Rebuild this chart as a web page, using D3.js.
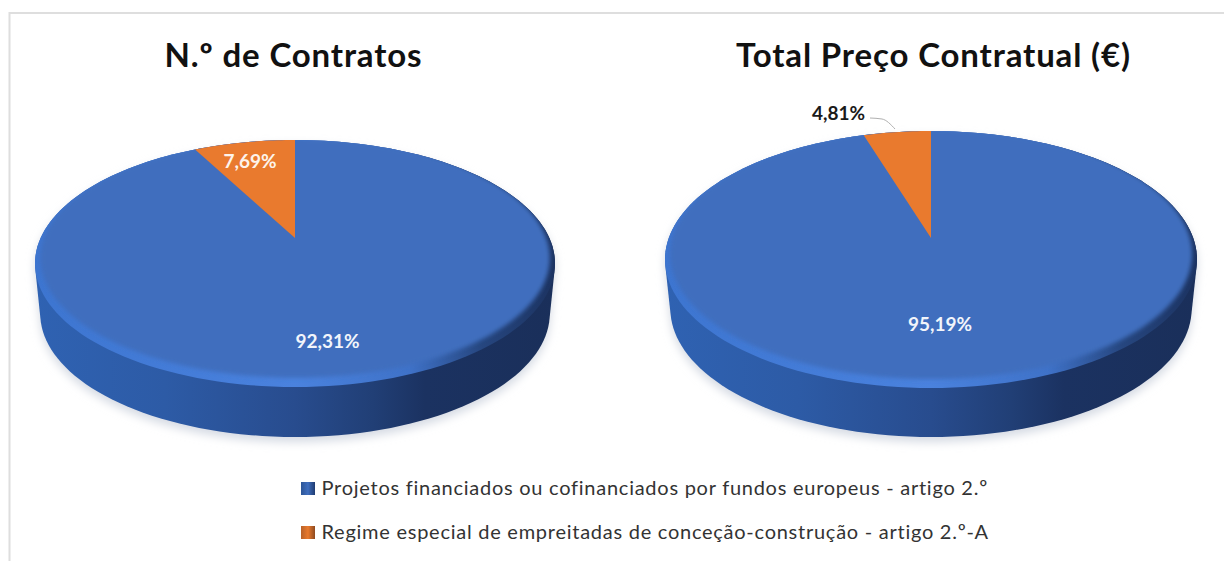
<!DOCTYPE html>
<html>
<head>
<meta charset="utf-8">
<script src="https://cdn.jsdelivr.net/npm/d3@7"></script>
<style>
    html, body { margin: 0; padding: 0; background: #fff; overflow: hidden; }
    text { font-family: Lato, "Open Sans", sans-serif; }
</style>
</head>
<body>
<svg id="drawing_region" width="1224" height="561"></svg>
<script>
const categories = [
    "Projetos financiados ou cofinanciados por fundos europeus - artigo 2.º",
    "Regime especial de empreitadas de conceção-construção - artigo 2.º-A"
];
const chart_titles = ["N.º de Contratos", "Total Preço Contratual (€)"];
const contratos_values = [92.31, 7.69];
const preco_values = [95.19, 4.81];
const colors = ["#3f6ebe", "#e97a2e"];

const fmt = d3.formatLocale({ decimal: ",", thousands: ".", grouping: [3], currency: ["", "€"] }).format(".2f");

const svg = d3.select("#drawing_region");
const defs = svg.append("defs");

// moldura cinzenta (só em cima e à esquerda)
svg.append("path")
    .attr("d", "M9.5,561V13H1224")
    .attr("fill", "none")
    .attr("stroke", "#dedede")
    .attr("stroke-width", 2);

function hgrad(id, stops) {
    const g = defs.append("linearGradient").attr("id", id);
    stops.forEach(s => g.append("stop").attr("offset", s[0]).attr("stop-color", s[1]));
}
hgrad("side_grad", [[0, "#2f62b2"], [0.25, "#2d5ba6"], [0.5, "#284c8e"], [0.65, "#213f76"], [0.75, "#1b3261"], [1, "#1a2f5a"]]);
hgrad("rim_grad", [[0, "#3d75d0"], [0.5, "#4a82de"], [0.72, "#3f72c8"], [0.86, "#26467f"], [1, "#1c3361"]]);
defs.append("filter").attr("id", "blur_soft").append("feGaussianBlur").attr("stdDeviation", 2);
defs.append("filter").attr("id", "blur_shadow")
    .attr("x", "-10%").attr("y", "-10%").attr("width", "120%").attr("height", "120%")
    .append("feGaussianBlur").attr("stdDeviation", 5);

let pie_count = 0;

class Pie3D {
    constructor(config, values) {
        this.config = config;
        this.values = values;
        this.init();
        this.render();
    }

    init() {
        const c = this.config;
        // perspetiva: o centro do círculo fica acima do centro da elipse
        const k = (c.bottom - c.cy - (c.cy - c.top)) / (c.bottom - c.cy + (c.cy - c.top));
        const b = (c.cy - c.top) * (1 + k);
        const a = c.rx * Math.sqrt(1 - k * k);
        this.project = (angle, r) => {
            const u = r * Math.sin(angle), v = r * Math.cos(angle);
            const w = 1 + k * v;
            return [c.cx + a * u / w, c.cy - b * v / w];
        };
        this.arcs = d3.pie().sort(null)(this.values);
        this.angles = d3.range(0, 361, 2).map(d => d * Math.PI / 180);
    }

    render() {
        const c = this.config, self = this;
        const g = svg.append("g");
        const rim = this.angles.map(t => this.project(t, 1));
        const lower = rim.map(p => [c.cx + (p[0] - c.cx) * 0.98, p[1] + c.depth]);
        const hull = d3.polygonHull(rim.concat(lower));
        const closed = d3.line().curve(d3.curveLinearClosed);

        g.append("path")
            .attr("d", closed(hull))
            .attr("transform", "translate(0,5)")
            .attr("fill", "#d5dae3")
            .attr("filter", "url(#blur_shadow)");
        g.append("path").attr("d", closed(hull)).attr("fill", "url(#side_grad)");
        g.append("path").attr("d", closed(rim)).attr("fill", "url(#rim_grad)");

        // face de cima, um pouco recolhida em baixo para deixar ver o bisel
        const clip_id = `rim_clip_${pie_count++}`;
        defs.append("clipPath").attr("id", clip_id).append("path").attr("d", closed(rim));
        const inner = this.angles.map(t => this.project(t, 1.025 - 0.075 * (1 - Math.cos(t)) / 2));
        g.append("g")
            .attr("clip-path", `url(#${clip_id})`)
            .append("path")
            .attr("d", closed(inner))
            .attr("fill", colors[0])
            .attr("filter", "url(#blur_soft)");

        this.arcs.forEach((d, i) => {
            if (i === 0) return;
            const pts = d3.range(d.startAngle, d.endAngle, 0.02).concat([d.endAngle])
                .map(t => self.project(t, 1));
            pts.push(self.project(0, 0));
            g.append("path").attr("d", closed(pts)).attr("fill", colors[i]);
        });

        if (c.leader) {
            g.append("path")
                .attr("d", d3.line().curve(d3.curveMonotoneX)(c.leader))
                .attr("fill", "none")
                .attr("stroke", "#b0b0b0")
                .attr("stroke-width", 1);
        }

        this.values.forEach((v, i) => {
            g.append("text")
                .attr("x", c.labels[i][0])
                .attr("y", c.labels[i][1])
                .attr("dy", "0.35em")
                .attr("text-anchor", "middle")
                .attr("font-size", 19)
                .attr("font-weight", 700)
                .attr("fill", c.label_fill[i])
                .text(fmt(v) + "%");
        });

        svg.append("text")
            .attr("x", c.title_x)
            .attr("y", 55)
            .attr("dy", "0.35em")
            .attr("text-anchor", "middle")
            .attr("font-size", 33)
            .attr("font-weight", 700)
            .attr("letter-spacing", 0.85)
            .attr("fill", "#111")
            .text(c.title);
    }
}

new Pie3D({
    cx: 295, cy: 238, top: 140, bottom: 387, rx: 260, depth: 50,
    title: chart_titles[0], title_x: 293.5,
    labels: [[327.5, 341], [250, 161]],
    label_fill: ["#f2f5fb", "#fdf3ea"]
}, contratos_values);

new Pie3D({
    cx: 931, cy: 238, top: 131, bottom: 388, rx: 266, depth: 49,
    title: chart_titles[1], title_x: 933.5,
    labels: [[940, 324], [838.5, 113]],
    label_fill: ["#f2f5fb", "#1a1a1a"],
    leader: [[870, 118], [882, 119], [895, 129]]
}, preco_values);

// legenda
hgrad("leg_0", [[0, "#2d5596"], [0.5, "#3f6ebe"], [1, "#1f3b70"]]);
hgrad("leg_1", [[0, "#b8622a"], [0.5, "#e97a2e"], [1, "#8d4a20"]]);
const legend = svg.append("g").selectAll("g").data(categories).join("g")
    .attr("transform", (d, i) => `translate(301,${488.5 + i * 44})`);
legend.append("rect")
    .attr("y", -6.5).attr("width", 14).attr("height", 13)
    .attr("fill", (d, i) => `url(#leg_${i})`);
legend.append("text")
    .attr("x", 20.5)
    .attr("dy", "0.33em")
    .attr("font-size", 20)
    .attr("letter-spacing", 0.74)
    .attr("fill", "#333")
    .text(d => d);
</script>
</body>
</html>
